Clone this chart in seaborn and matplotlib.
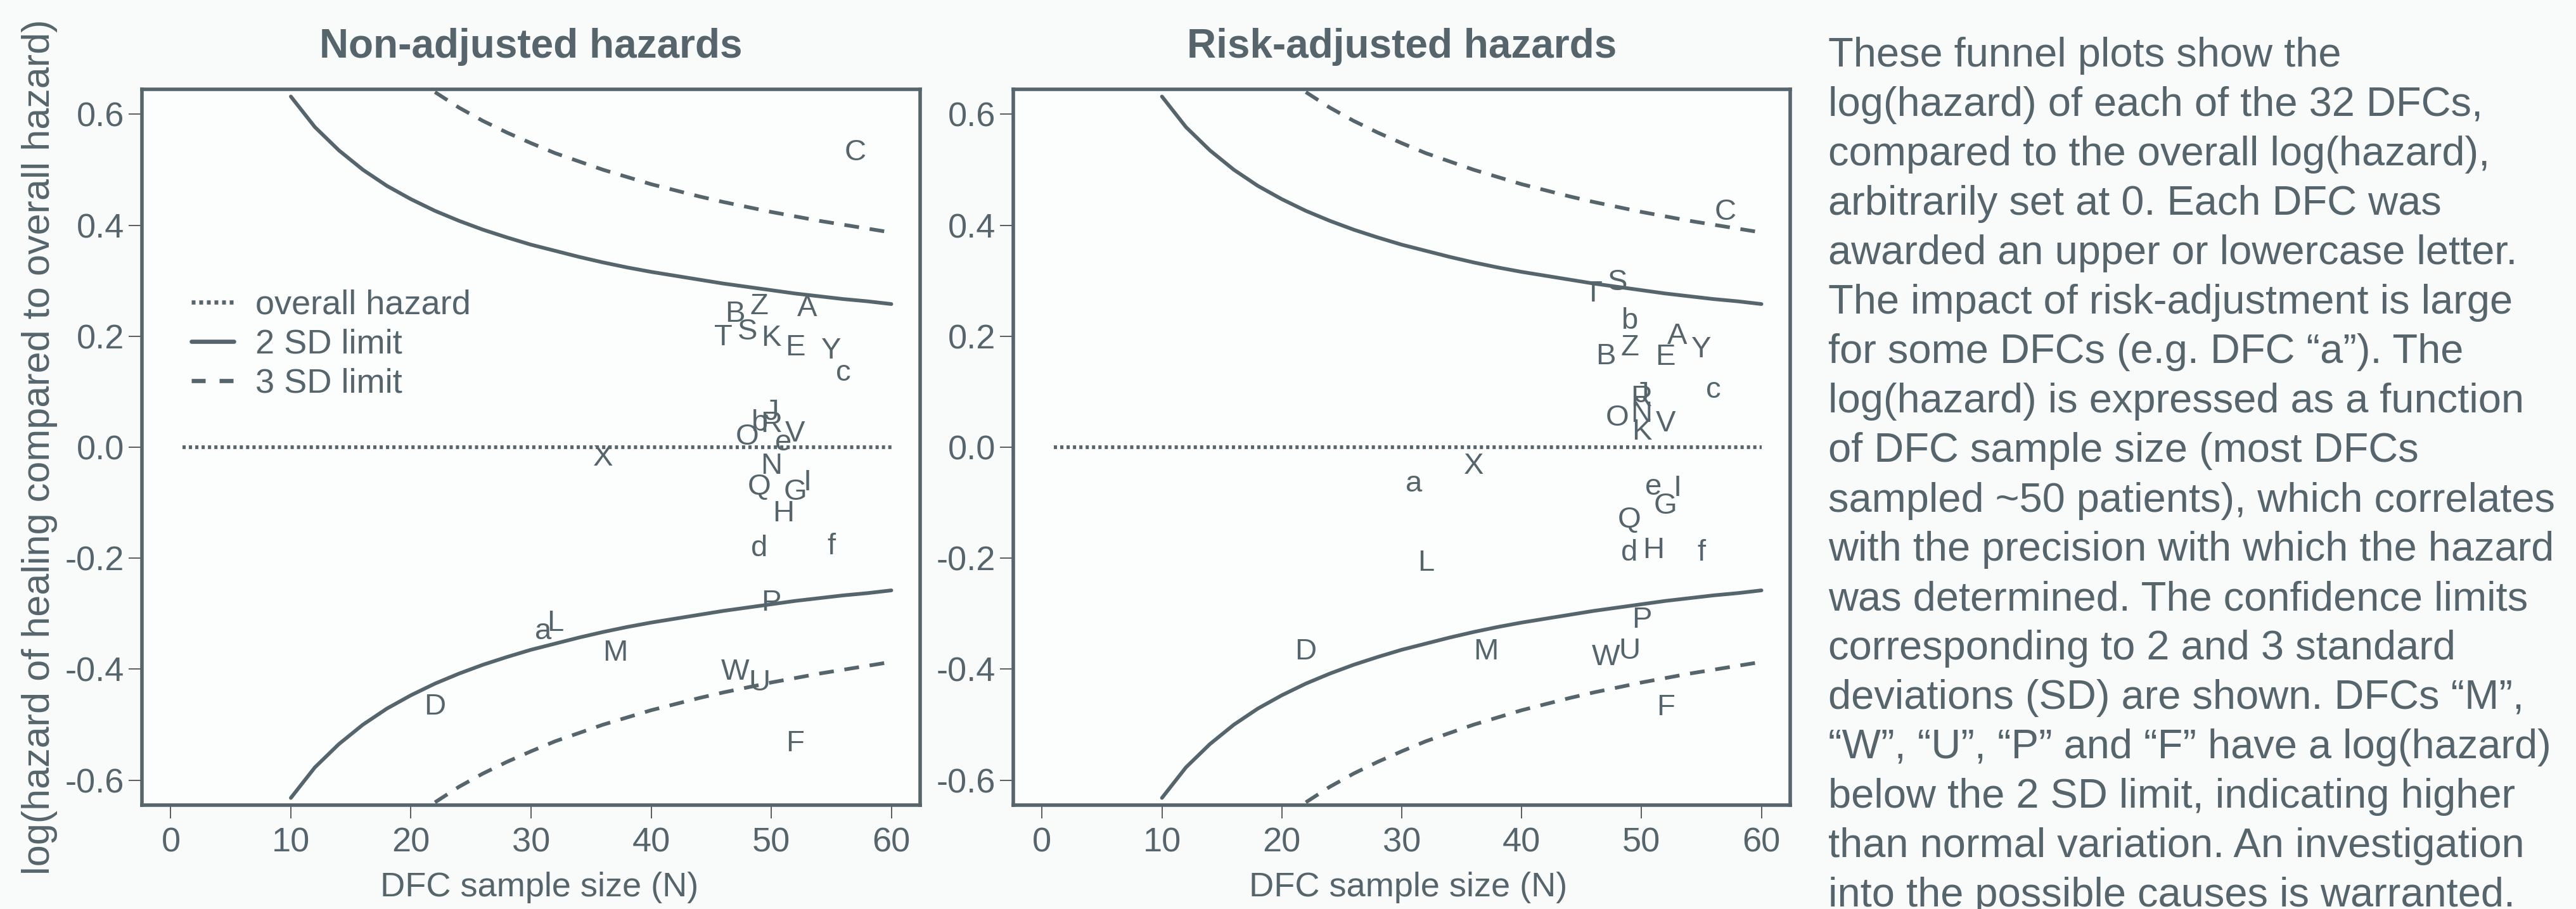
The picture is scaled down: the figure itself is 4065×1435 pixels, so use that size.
import matplotlib
matplotlib.use("Agg")
import matplotlib.pyplot as plt
from matplotlib.lines import Line2D
from matplotlib.ticker import FormatStrFormatter
import seaborn as sns

GREY = "#56646b"
BG = "#f9fafa"

# funnel limits (upper half, lower half is mirrored)
n_2sd = [10, 12, 14, 16, 18, 20, 22, 24, 26, 28, 30, 32, 34, 36, 38, 40,
         42, 44, 46, 48, 50, 52, 54, 56, 58, 60]
lim_2sd = [0.632, 0.577, 0.535, 0.500, 0.471, 0.447, 0.426, 0.408, 0.392,
           0.378, 0.365, 0.354, 0.343, 0.333, 0.324, 0.316, 0.309, 0.302,
           0.295, 0.289, 0.283, 0.277, 0.272, 0.267, 0.263, 0.258]
n_3sd = [22, 24, 26, 28, 30, 32, 34, 36, 38, 40, 42, 44, 46, 48, 50, 52,
         54, 56, 58, 60]
lim_3sd = [0.640, 0.612, 0.588, 0.567, 0.548, 0.530, 0.515, 0.500, 0.487,
           0.474, 0.463, 0.452, 0.442, 0.433, 0.424, 0.416, 0.408, 0.401,
           0.394, 0.387]
overall_n = [1, 60]
overall_y = [0.0, 0.0]

# one letter per DFC
dfc = ["A", "B", "C", "D", "E", "F", "G", "H", "I", "J", "K", "L", "M",
       "N", "O", "P", "Q", "R", "S", "T", "U", "V", "W", "X", "Y", "Z",
       "a", "b", "c", "d", "e", "f"]
raw_n = [53, 47, 57, 22, 52, 52, 52, 51, 53, 50, 50, 32, 37,
         50, 48, 50, 49, 50, 48, 46, 49, 52, 47, 36, 55, 49,
         31, 49, 56, 49, 51, 55]
raw_y = [0.256, 0.246, 0.537, -0.462, 0.185, -0.528, -0.075, -0.114,
         -0.058, 0.069, 0.202, -0.312, -0.365, -0.028, 0.024, -0.275,
         -0.066, 0.047, 0.213, 0.203, -0.419, 0.030, -0.400, -0.014,
         0.179, 0.259, -0.326, 0.049, 0.139, -0.177, 0.014, -0.173]
adj_n = [53, 47, 57, 22, 52, 52, 52, 51, 53, 50, 50, 32, 37,
         50, 48, 50, 49, 50, 48, 46, 49, 52, 47, 36, 55, 49,
         31, 49, 56, 49, 51, 55]
adj_y = [0.205, 0.169, 0.429, -0.363, 0.168, -0.463, -0.100, -0.180,
         -0.069, 0.100, 0.033, -0.203, -0.363, 0.065, 0.058, -0.306,
         -0.126, 0.094, 0.302, 0.282, -0.362, 0.048, -0.373, -0.028,
         0.181, 0.185, -0.060, 0.233, 0.109, -0.185, -0.066, -0.185]

y_ticks = [-0.6, -0.4, -0.2, 0.0, 0.2, 0.4, 0.6]
x_ticks = [0, 10, 20, 30, 40, 50, 60]

caption = [
    "These funnel plots show the",
    "log(hazard) of each of the 32 DFCs,",
    "compared to the overall log(hazard),",
    "arbitrarily set at 0. Each DFC was",
    "awarded an upper or lowercase letter.",
    "The impact of risk-adjustment is large",
    "for some DFCs (e.g. DFC \u201ca\u201d). The",
    "log(hazard) is expressed as a function",
    "of DFC sample size (most DFCs",
    "sampled ~50 patients), which correlates",
    "with the precision with which the hazard",
    "was determined. The confidence limits",
    "corresponding to 2 and 3 standard",
    "deviations (SD) are shown. DFCs \u201cM\u201d,",
    "\u201cW\u201d, \u201cU\u201d, \u201cP\u201d and \u201cF\u201d have a log(hazard)",
    "below the 2 SD limit, indicating higher",
    "than normal variation. An investigation",
    "into the possible causes is warranted.",
]

W, H = 4065, 1435
LW = 4.2


def draw_line(ax, xs, ys, dashes=None):
    sns.lineplot(x=xs, y=ys, ax=ax, color=GREY, linewidth=LW, legend=False)
    line = ax.lines[-1]
    if dashes is not None:
        line.set_dashes(dashes)
        line.set_dash_capstyle("butt")
    return line


def draw_panel(ax, ns, ys, title, xlab_x):
    draw_line(ax, overall_n, overall_y, dashes=(0.86, 0.86))
    draw_line(ax, n_2sd, lim_2sd)
    draw_line(ax, n_2sd, [-v for v in lim_2sd])
    draw_line(ax, n_3sd, lim_3sd, dashes=(4.0, 2.9))
    draw_line(ax, n_3sd, [-v for v in lim_3sd], dashes=(4.0, 2.9))

    for lab, n, y in zip(dfc, ns, ys):
        ax.text(n, y, lab, ha="center", va="center_baseline",
                fontsize=34, color=GREY)

    ax.set_xlim(-2.4, 62.4)
    ax.set_ylim(-0.645, 0.645)
    ax.set_xticks(x_ticks)
    ax.set_yticks(y_ticks)
    ax.yaxis.set_major_formatter(FormatStrFormatter("%.1f"))
    ax.tick_params(direction="out", length=15, width=1.1, color="#2b3236",
                   labelsize=39, labelcolor=GREY)
    ax.tick_params(axis="x", pad=10)
    ax.tick_params(axis="y", pad=5)
    for s in ax.spines.values():
        s.set_color(GREY)
        s.set_linewidth(4.0)
    ax.set_facecolor("#fcfdfd")
    ax.set_xlabel("DFC sample size (N)", fontsize=39, color=GREY)
    ax.xaxis.set_label_coords(xlab_x, -0.093)
    ax.text(0.5, 1 + 49.5 / 1130, title, transform=ax.transAxes,
            ha="center", va="baseline", fontsize=46, fontweight="bold",
            color=GREY)


sns.set_theme(style="ticks")
plt.rcParams["font.family"] = ["Liberation Sans", "DejaVu Sans"]
plt.rcParams["axes.unicode_minus"] = False

fig = plt.figure(figsize=(W / 100, H / 100), dpi=100, facecolor=BG)
ax1 = fig.add_axes([224 / W, 1 - 1271 / H, 1228 / W, 1130 / H])
ax2 = fig.add_axes([1599 / W, 1 - 1271 / H, 1226 / W, 1130 / H])

draw_panel(ax1, raw_n, raw_y, "Non-adjusted hazards", 0.511)
draw_panel(ax2, adj_n, adj_y, "Risk-adjusted hazards", 0.508)

ax1.set_ylabel("log(hazard of healing compared to overall hazard)",
               fontsize=44, color=GREY)
ax1.yaxis.set_label_coords(-0.108, 0.5)

handles = [
    Line2D([], [], color=GREY, lw=4.8, dashes=(0.9, 0.9)),
    Line2D([], [], color=GREY, lw=4.8),
    Line2D([], [], color=GREY, lw=4.8, dashes=(3.3, 3.3)),
]
ax1.legend(handles, ["overall hazard", "2 SD limit", "3 SD limit"],
           loc="upper left", bbox_to_anchor=(302 / W, 1 - 457 / H),
           bbox_transform=fig.transFigure, frameon=False, borderpad=0,
           borderaxespad=0, handlelength=1.24, handletextpad=0.63,
           labelspacing=0.22, fontsize=39, labelcolor=GREY)

for i, line in enumerate(caption):
    fig.text(2885 / W, 1 - (82 + 78 * i) / H, line, ha="left",
             va="center_baseline", fontsize=46.8, color=GREY)

fig.savefig("out.png", dpi=100, facecolor=BG)
